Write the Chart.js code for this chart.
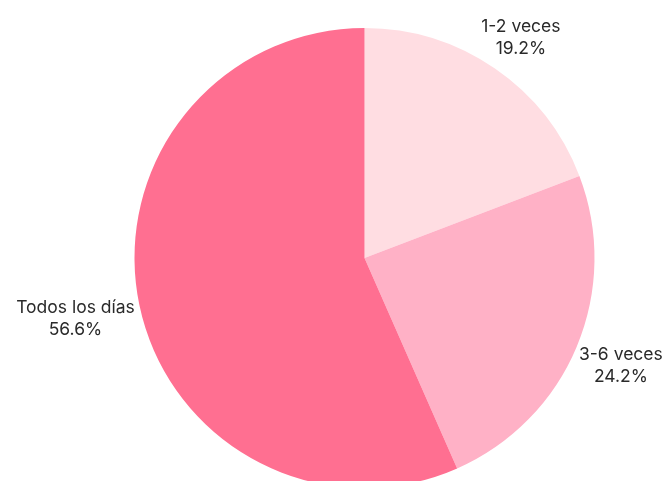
<!DOCTYPE html>
<html>
<head>
<meta charset="utf-8">
<script src="https://cdn.jsdelivr.net/npm/chart.js@4/dist/chart.umd.min.js"></script>
<style>
  html, body { margin: 0; padding: 0; background: #ffffff; overflow: hidden; }
  #wrap { width: 670px; height: 481px; overflow: hidden; position: relative; }
  canvas { display: block; }
</style>
</head>
<body>
<div id="wrap"><canvas id="c" width="670" height="490"></canvas></div>
<script>
const categories = ["1-2 veces", "3-6 veces", "Todos los días"];
const values = [19.2, 24.2, 56.6];
const sliceColors = ["#FFDDE2", "#FFB1C6", "#FF6F91"];

const outsideLabels = {
  id: 'outsideLabels',
  afterDatasetsDraw(chart) {
    const ctx = chart.ctx;
    const meta = chart.getDatasetMeta(0);
    ctx.save();
    ctx.font = '17.5px Inter, "Noto Sans", sans-serif';
    ctx.fillStyle = '#2a2a2a';
    ctx.textAlign = 'center';
    ctx.textBaseline = 'middle';
    const lineH = 22;
    meta.data.forEach((arc, i) => {
      const p = arc.getProps(['x', 'y', 'startAngle', 'endAngle', 'outerRadius'], true);
      const mid = (p.startAngle + p.endAngle) / 2;
      const dx = Math.cos(mid), dy = Math.sin(mid);
      const lines = [categories[i], values[i].toFixed(1) + '%'];
      const w = Math.max(...lines.map(l => ctx.measureText(l).width));
      const h = lineH * lines.length;
      const d = p.outerRadius + 6;
      const cx = p.x + dx * d + dx * w / 2;
      const cy = p.y + dy * d + dy * h / 2 + Math.sign(dy) * 8;
      lines.forEach((l, k) => {
        ctx.fillText(l, cx, cy + (k - (lines.length - 1) / 2) * lineH);
      });
    });
    ctx.restore();
  }
};

new Chart(document.getElementById('c'), {
  type: 'pie',
  data: {
    labels: categories,
    datasets: [{
      data: values,
      backgroundColor: sliceColors,
      borderWidth: 0
    }]
  },
  options: {
    responsive: false,
    animation: false,
    layout: { padding: { top: 28, bottom: 2, left: 134.5, right: 75.5 } },
    plugins: {
      legend: { display: false },
      tooltip: { enabled: false }
    }
  },
  plugins: [outsideLabels]
});
</script>
</body>
</html>
